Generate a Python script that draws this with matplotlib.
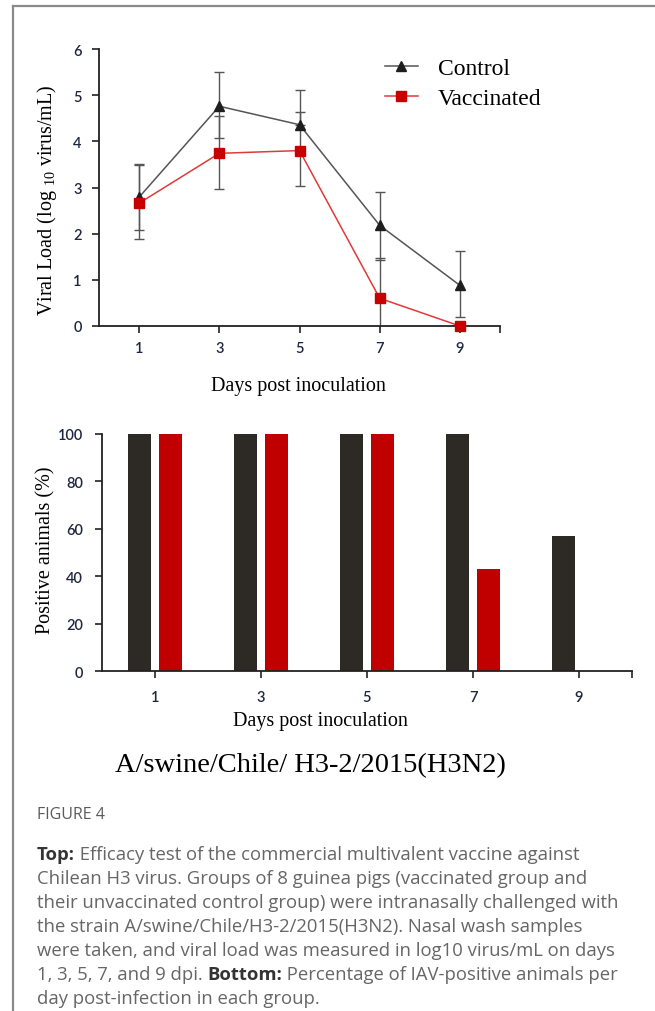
import matplotlib
matplotlib.use("Agg")
import matplotlib.pyplot as plt
from matplotlib.lines import Line2D
from matplotlib.ticker import FixedLocator

# ---- data ----
days = [1, 3, 5, 7, 9]

ctrl_load = [2.79, 4.76, 4.36, 2.18, 0.88]
ctrl_err_lo = [0.72, 0.68, 0.00, 0.75, 0.68]
ctrl_err_hi = [0.71, 0.75, 0.76, 0.73, 0.75]

vacc_load = [2.66, 3.74, 3.80, 0.60, 0.00]
vacc_err_lo = [0.78, 0.78, 0.77, 0.85, 0.00]
vacc_err_hi = [0.83, 0.80, 0.83, 0.87, 0.00]

ctrl_pos = [100, 100, 100, 100, 57.1]
vacc_pos = [100, 100, 100, 42.9, 0]

caption_lines = [
    ("Top:", " Efficacy test of the commercial multivalent vaccine against"),
    ("", "Chilean H3 virus. Groups of 8 guinea pigs (vaccinated group and"),
    ("", "their unvaccinated control group) were intranasally challenged with"),
    ("", "the strain A/swine/Chile/H3-2/2015(H3N2). Nasal wash samples"),
    ("", "were taken, and viral load was measured in log10 virus/mL on days"),
    ("", "1, 3, 5, 7, and 9 dpi. |Bottom:| Percentage of IAV-positive animals per"),
    ("", "day post-infection in each group."),
]

W, H = 655, 1012
SERIF = "Liberation Serif"
TICKFONT = "Lato"
TICKCOL = "#1f2740"
plt.rcParams["mathtext.fontset"] = "custom"
plt.rcParams["mathtext.rm"] = SERIF


def fx(px):
    return px / W


def fy(py):
    return 1 - py / H


def style_axes(ax):
    for s in ["top", "right"]:
        ax.spines[s].set_visible(False)
    for s in ["left", "bottom"]:
        ax.spines[s].set_linewidth(1.3)
        ax.spines[s].set_color("#222222")
    ax.tick_params(direction="out", length=5, width=1.2, color="#222222",
                   labelcolor=TICKCOL)
    ax.xaxis.set_minor_locator(FixedLocator([10]))
    ax.tick_params(axis="x", which="minor", length=5, width=1.2, color="#222222")
    for lab in ax.get_xticklabels() + ax.get_yticklabels():
        lab.set_fontfamily(TICKFONT)
        lab.set_fontsize(10.5)
        lab.set_fontweight("semibold")


fig = plt.figure(figsize=(W / 100, H / 100), dpi=100)

# ---- top: viral load ----
ax1 = fig.add_axes([fx(99), fy(327), fx(500) - fx(99), fy(50) - fy(327)])
ax1.errorbar(days, ctrl_load, yerr=[ctrl_err_lo, ctrl_err_hi], fmt="none",
             ecolor="#555555", elinewidth=1, capsize=3.5, capthick=1, zorder=2)
ax1.errorbar(days, vacc_load, yerr=[vacc_err_lo, vacc_err_hi], fmt="none",
             ecolor="#555555", elinewidth=1, capsize=3.5, capthick=1, zorder=2)
ax1.plot(days, ctrl_load, color="#555555", lw=1.1, marker="^", ms=7.5,
         mfc="#1e1e1e", mec="#1e1e1e", label="Control", zorder=3, clip_on=False)
ax1.plot(days, vacc_load, color="#e03a3a", lw=1.1, marker="s", ms=7,
         mfc="#c80000", mec="#c80000", label="Vaccinated", zorder=4, clip_on=False)
ax1.set_xlim(0, 10)
ax1.set_ylim(0, 6)
ax1.set_xticks(days)
ax1.set_yticks(range(0, 7))
style_axes(ax1)
ax1.tick_params(axis="x", pad=6)
ax1.tick_params(axis="y", pad=7.5)
ax1.legend(loc="upper left", bbox_to_anchor=(fx(373), fy(47)),
           bbox_transform=fig.transFigure, frameon=False, borderpad=0,
           handlelength=1.4, handletextpad=0.85, labelspacing=0.35,
           prop={"family": SERIF, "size": 17})

fig.text(fx(298), fy(387), "Days post inoculation", family=SERIF, fontsize=14.5,
         ha="center", va="center")
fig.text(fx(47), fy(200), r"Viral Load (log $_{\mathregular{10}}$ virus/mL)",
         family=SERIF, fontsize=14.5, rotation=90, ha="center", va="center")

# ---- bottom: positive animals ----
ax2 = fig.add_axes([fx(102), fy(672), fx(632) - fx(102), fy(435) - fy(672)])
off, bw = 0.29, 0.43
ax2.bar([d - off for d in days], ctrl_pos, width=bw, color="#2d2a26")
ax2.bar([d + off for d in days], vacc_pos, width=bw, color="#c00000")
ax2.set_xlim(0, 10)
ax2.set_ylim(0, 100)
ax2.set_xticks(days)
ax2.set_yticks(range(0, 101, 20))
style_axes(ax2)
ax2.tick_params(axis="x", pad=9)
ax2.tick_params(axis="y", pad=8.5)

fig.text(fx(320), fy(722), "Days post inoculation", family=SERIF, fontsize=14.5,
         ha="center", va="center")
fig.text(fx(46), fy(550), "Positive animals (%)", family=SERIF, fontsize=14.5,
         rotation=90, ha="center", va="center")
fig.text(fx(310), fy(766), "A/swine/Chile/ H3-2/2015(H3N2)", family=SERIF,
         fontsize=20.5, ha="center", va="center")

# ---- caption ----
CAPFONT = "Open Sans"
CAPSIZE = 13.3
fig.text(fx(37), fy(815), "FIGURE 4", family=CAPFONT, fontsize=11.5,
         color="#5a5a5a", ha="left", va="center")

renderer = fig.canvas.get_renderer()
y0 = 855
for i, (bold, rest) in enumerate(caption_lines):
    yy = fy(y0 + i * 24)
    x = fx(37)
    pieces = []
    if bold:
        pieces.append((bold, True))
    parts = rest.split("|")
    for j, p in enumerate(parts):
        if p:
            pieces.append((p, j % 2 == 1))
    for text, is_bold in pieces:
        t = fig.text(x, yy, text, family=CAPFONT, fontsize=CAPSIZE,
                     fontweight="bold" if is_bold else "normal",
                     color="#333333" if is_bold else "#666666",
                     ha="left", va="center")
        bb = t.get_window_extent(renderer=renderer)
        x += bb.width / W

# ---- page frame ----
fig.add_artist(Line2D([fx(13), 1], [fy(7), fy(7)], color="#8a8a8a", lw=1.6))
fig.add_artist(Line2D([fx(13), fx(13)], [0, fy(7)], color="#8a8a8a", lw=1.6))

fig.savefig("out.png", dpi=100)
